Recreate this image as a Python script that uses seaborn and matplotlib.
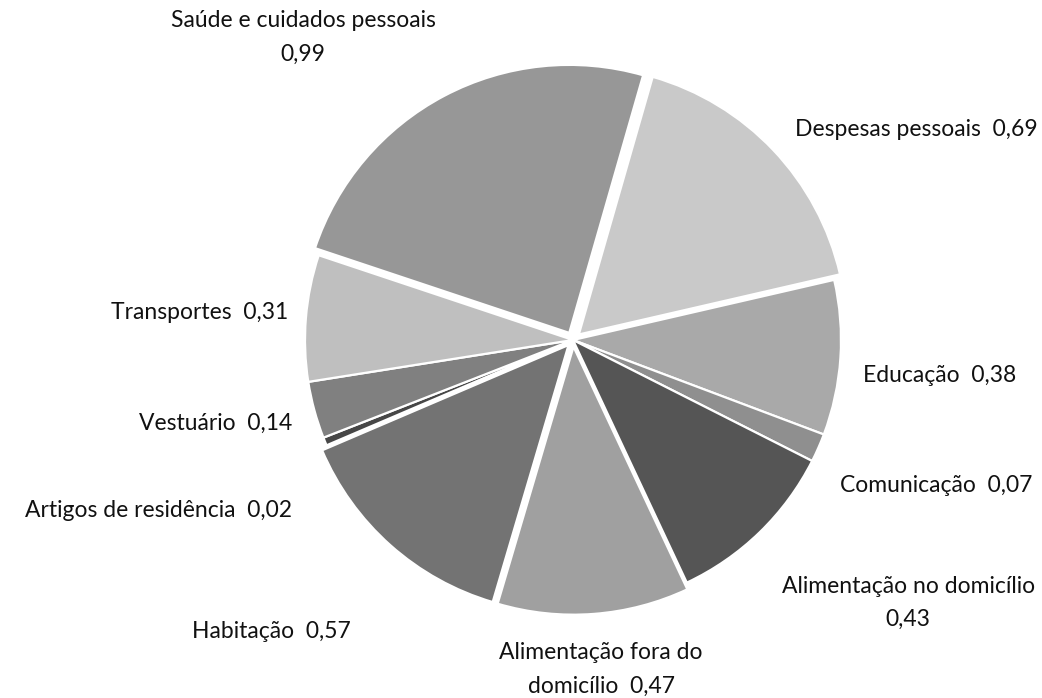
import matplotlib
matplotlib.use("Agg")
import matplotlib.pyplot as plt
import seaborn as sns

# data, clockwise starting at "Despesas pessoais"
categories = ["Despesas pessoais", "Educação", "Comunicação", "Alimentação no domicílio",
              "Alimentação fora do domicílio", "Habitação", "Artigos de residência",
              "Vestuário", "Transportes", "Saúde e cuidados pessoais"]
values = [0.69, 0.38, 0.07, 0.43, 0.47, 0.57, 0.02, 0.14, 0.31, 0.99]
colors = ["#c9c9c9", "#a9a9a9", "#8f8f8f", "#555555", "#a0a0a0",
          "#737373", "#474747", "#808080", "#bfbfbf", "#979797"]
explode = [0.03, 0, 0, 0, 0.025, 0.025, 0, 0, 0, 0.03]

# label text layout: position (data units, radius = 1), alignment, line break
label_layout = {
    "Despesas pessoais": (0.828, 0.787, "left", None),
    "Educação": (1.082, -0.131, "left", None),
    "Comunicação": (0.996, -0.543, "left", None),
    "Alimentação no domicílio": (1.251, -0.981, "center", "\n"),
    "Alimentação fora do domicílio": (0.105, -1.228, "center", "fora do\ndomicílio"),
    "Habitação": (-0.831, -1.086, "right", None),
    "Artigos de residência": (-1.049, -0.637, "right", None),
    "Vestuário": (-1.049, -0.311, "right", None),
    "Transportes": (-1.064, 0.101, "right", None),
    "Saúde e cuidados pessoais": (-1.007, 1.129, "center", "\n"),
}

sns.set_theme(style="white")
plt.rcParams["font.family"] = ["Lato", "DejaVu Sans"]

fig = plt.figure(figsize=(10.42, 6.98), dpi=100)
r_px = 268
cx, cy = 573, 340
ax = fig.add_axes([(cx - r_px) / 1042, (698 - cy - r_px) / 698, 2 * r_px / 1042, 2 * r_px / 698])

ax.pie(values, colors=colors, explode=explode, startangle=74.0, counterclock=False,
       radius=1, wedgeprops=dict(edgecolor="white", linewidth=1.6))
ax.set_xlim(-1, 1)
ax.set_ylim(-1, 1)
ax.set_aspect("equal")
ax.axis("off")

for name, val in zip(categories, values):
    x, y, ha, brk = label_layout[name]
    num = f"{val:.2f}".replace(".", ",")
    if brk == "\n":
        txt = f"{name}\n{num}"
    elif brk:
        txt = name.replace("fora do domicílio", "fora do\ndomicílio") + "  " + num
    else:
        txt = f"{name}  {num}"
    ax.text(x, y, txt, ha=ha, va="center", fontsize=16.5, color="#111111",
            linespacing=1.75, multialignment="center")

fig.savefig("out.png", dpi=100)
